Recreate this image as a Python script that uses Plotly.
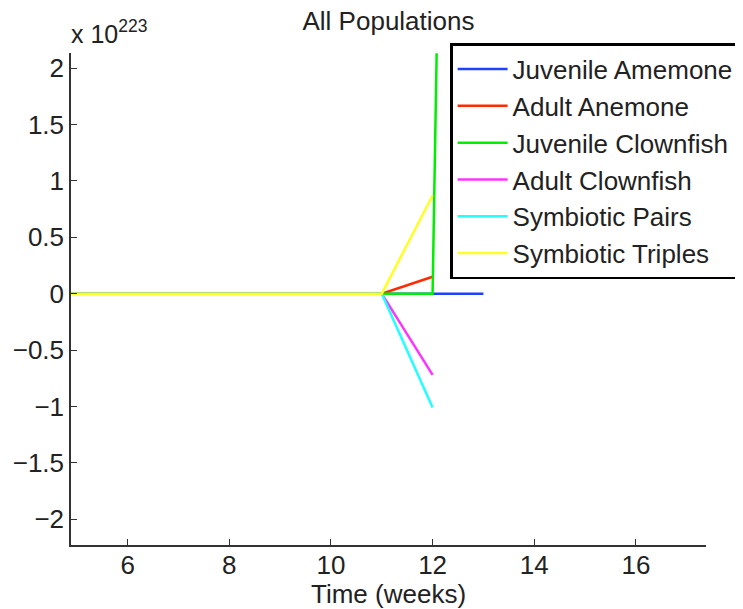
import plotly.graph_objects as go

# Time points (weeks) and populations (in units of 10^223)
time_main = [0, 11, 12]
juv_anemone_t = [0, 11, 12, 13]
juv_anemone = [0, 0, 0, 0]
adult_anemone = [0, 0, 0.15]
juv_clown_t = [0, 11, 12, 12.08]
juv_clown = [0, 0, 0, 2.13]
adult_clown = [0, 0, -0.72]
sym_pairs = [0, 0, -1.01]
sym_triples = [0, 0, 0.87]

yticks = [-2, -1.5, -1, -0.5, 0, 0.5, 1, 1.5, 2]
ytick_text = ["\u22122", "\u22121.5", "\u22121", "\u22120.5", "0", "0.5", "1", "1.5", "2"]
xticks = [6, 8, 10, 12, 14, 16]

series = [
    ("Juvenile Amemone", juv_anemone_t, juv_anemone, "#2040ff"),
    ("Adult Anemone", time_main, adult_anemone, "#ff2a00"),
    ("Juvenile Clownfish", juv_clown_t, juv_clown, "#00ee00"),
    ("Adult Clownfish", time_main, adult_clown, "#ff33ff"),
    ("Symbiotic Pairs", time_main, sym_pairs, "#22ffff"),
    ("Symbiotic Triples", time_main, sym_triples, "#ffff22"),
]

fig = go.Figure()
for name, x, y, c in series:
    fig.add_trace(go.Scatter(x=x, y=y, mode="lines", name=name,
                             line=dict(color=c, width=2.5)))

font = "Liberation Sans, Arial, Helvetica, sans-serif"
fs = 26
fig.update_layout(
    width=743, height=609,
    margin=dict(l=63, r=45, t=45, b=72, autoexpand=False),
    paper_bgcolor="white", plot_bgcolor="white",
    font=dict(family=font, size=fs, color="#222"),
    title=dict(text="All Populations", x=0.5, xref="paper", xanchor="center",
               y=0.993, yref="container", yanchor="top",
               font=dict(size=fs, color="#222")),
    showlegend=True,
    legend=dict(x=0.597, xanchor="left", y=1.02, yanchor="top",
                bgcolor="white", bordercolor="black", borderwidth=2.5,
                font=dict(size=fs, color="#222"), tracegroupgap=0,
                itemwidth=50, entrywidth=320, entrywidthmode="pixels"),
    xaxis=dict(range=[4.885, 17.38], tickvals=xticks, ticks="inside", ticklen=6,
               tickcolor="#333", showline=True, linecolor="#333", linewidth=1.5,
               showgrid=False, zeroline=False, mirror=False,
               ticklabelstandoff=-4,
               tickfont=dict(size=fs)),
    yaxis=dict(range=[-2.228, 2.133], tickvals=yticks, ticktext=ytick_text,
               ticks="inside", ticklen=6, tickcolor="#333",
               showline=True, linecolor="#333", linewidth=1.5,
               showgrid=False, zeroline=False, mirror=False,
               tickfont=dict(size=fs)),
    annotations=[
        dict(text="x 10<sup>223</sup>", xref="paper", yref="paper",
             x=0.0, y=1.0, xanchor="left", yanchor="bottom", xshift=-2, yshift=3,
             showarrow=False, font=dict(size=25, color="#222")),
        dict(text="Time (weeks)", xref="paper", yref="paper",
             x=0.5, y=0, xanchor="center", yanchor="middle", yshift=-49,
             showarrow=False, font=dict(size=fs, color="#222")),
    ],
)

fig.write_html("out.html")
